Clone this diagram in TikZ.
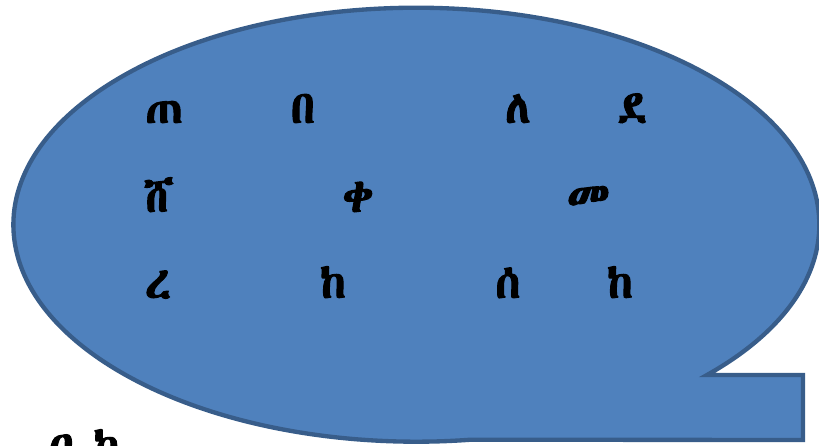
\documentclass[tikz,border=0pt]{standalone}
\usepackage{fontspec}
\usepackage{xcolor}
\newfontfamily\ethfont[FakeBold=2.2]{Abyssinica SIL}
\definecolor{bubblefill}{HTML}{4F81BD}
\definecolor{bubbleline}{HTML}{385D8A}

\begin{document}
\begin{tikzpicture}[x=0.03cm, y=0.03cm,
    bubble/.style={draw=bubbleline, fill=bubblefill, line width=0.13cm, line join=miter},
    glyph/.style ={anchor=base, inner sep=0pt, font=\ethfont\fontsize{39}{44}\selectfont, text=black}]
    \useasboundingbox (0,0) rectangle (819,445);
    % callout shape: ellipse with a square corner
    \draw[bubble] (707,70) arc[start angle=-43.84, end angle=277.8, x radius=403, y radius=217]
      -- (803,5) -- (803,70) -- cycle;
    % first row
    \node[glyph] (ra1) at (164,322) {ጠ};
    \node[glyph] (ra2) at (303,322) {በ};
    \node[glyph] (ra3) at (518,322) {ለ};
    \node[glyph] (ra4) at (632,322) {ደ};
    % second row
    \node[glyph] (rb1) at (159,233) {ሸ};
    \node[glyph] (rb2) at (358,233) {ቀ};
    \node[glyph] (rb3) at (588,233) {መ};
    % third row
    \node[glyph] (rc1) at (158,147) {ረ};
    \node[glyph] (rc2) at (333,147) {ከ};
    \node[glyph] (rc3) at (508,147) {ሰ};
    \node[glyph] (rc4) at (620,147) {ከ};
    % text below, cut by the page edge
    \node[glyph, anchor=base west] (below) at (48,-16) {ዐ ከ};
\end{tikzpicture}
\end{document}
